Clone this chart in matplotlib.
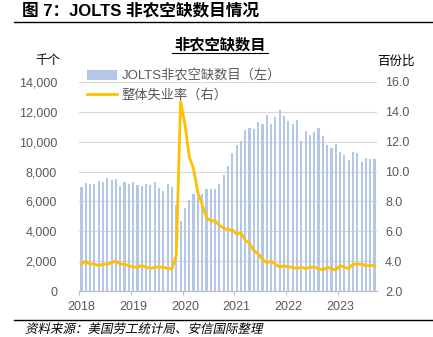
import numpy as np
import matplotlib
matplotlib.use('Agg')
import matplotlib.pyplot as plt
from matplotlib.lines import Line2D
from matplotlib.textpath import TextPath
from matplotlib.patches import PathPatch
from matplotlib.font_manager import FontProperties
from matplotlib.transforms import Affine2D, IdentityTransform

plt.rcParams['font.family'] = ['Liberation Sans', 'Noto Sans CJK SC']

# monthly, May 2018 .. Jan 2024
years = ['2018', '2019', '2020', '2021', '2022', '2023']
openings = [6990, 7210, 7170, 7170, 7370, 7280, 7570, 7450, 7480, 7050, 7280, 7170,
            7280, 7100, 7030, 7150, 7120, 7300, 6920, 6720, 7150, 6990, 5760, 4690,
            5580, 6100, 6500, 6320, 6500, 6810, 6830, 6830, 7150, 7750, 8370, 9220,
            9780, 10050, 10800, 10900, 10820, 11300, 11190, 11780, 11190, 11640, 12110, 11700,
            11420, 11160, 11460, 10060, 10730, 10480, 10660, 10950, 10360, 9800, 9570, 9850,
            9280, 9090, 8770, 9290, 9250, 8630, 8890, 8830, 8820]
unemp = [3.8, 4.0, 3.8, 3.8, 3.7, 3.8, 3.8, 3.9, 4.0, 3.8, 3.8, 3.7,
         3.6, 3.6, 3.7, 3.6, 3.5, 3.6, 3.6, 3.6, 3.5, 3.5, 4.4, 14.7,
         13.2, 11.0, 10.2, 8.6, 7.8, 6.9, 6.7, 6.7, 6.4, 6.2, 6.1, 6.1,
         5.8, 5.9, 5.4, 5.2, 4.7, 4.5, 4.1, 3.9, 4.0, 3.8, 3.6, 3.7,
         3.6, 3.6, 3.5, 3.6, 3.5, 3.6, 3.6, 3.5, 3.4, 3.6, 3.5, 3.4,
         3.7, 3.6, 3.5, 3.8, 3.8, 3.8, 3.7, 3.7, 3.7]

x = np.arange(len(openings))
grey = '#595959'

fig = plt.figure(figsize=(4.33, 3.37), dpi=100)
ax = fig.add_axes([79.3/433, 1-291/337, (376.7-79.3)/433, (291-82)/337])
ax2 = ax.twinx()

bars = ax.bar(x, openings, width=0.5, color='#B4C7E7', label='JOLTS非农空缺数目（左）', zorder=2)
line, = ax2.plot(x, unemp, color='#FFC000', lw=2, label='整体失业率（右）')

ax.set_xlim(-0.5, len(x) - 0.5)
ax.set_ylim(0, 14000)
ax2.set_ylim(2, 16)
ax.set_yticks(np.arange(0, 14001, 2000))
ax.set_yticklabels([f'{v:,}' for v in range(0, 14001, 2000)])
ax2.set_yticks(np.arange(2, 16.1, 2))
ax2.set_yticklabels([f'{v:.1f}' for v in np.arange(2, 16.1, 2)])
ax.grid(axis='y', color='#d9d9d9', lw=0.8, zorder=0)
ax.set_axisbelow(True)

ax.set_xticks(np.arange(-0.5, len(x), 12))
ax.set_xticklabels([])
ax.set_xticks(np.arange(0, len(x), 12), minor=True)
ax.set_xticklabels(years, minor=True)
ax.tick_params(axis='x', which='major', length=3, color='#bfbfbf')
ax.tick_params(axis='x', which='minor', length=0, pad=7, labelsize=9, labelcolor=grey)
ax.tick_params(axis='y', length=0, pad=16, labelsize=9, labelcolor=grey)
ax2.tick_params(axis='y', length=0, pad=6, labelsize=9, labelcolor=grey)

for a in (ax, ax2):
    for s in ('top', 'left', 'right'):
        a.spines[s].set_visible(False)
    a.spines['bottom'].set_color('#bfbfbf')

leg = ax2.legend(handles=[bars, line], loc='upper left', bbox_to_anchor=(80/433, 1-63/337),
                 bbox_transform=fig.transFigure, frameon=False, fontsize=9.5,
                 handlelength=2.3, handletextpad=0.35, labelspacing=0.45, borderpad=0)
for t in leg.get_texts():
    t.set_color(grey)

fig.text(22/433, 1-11/337, '图 7：JOLTS 非农空缺数目情况', fontsize=12, fontweight='bold', va='center')
fig.add_artist(Line2D([14/433, 1], [1-22/337, 1-22/337], color='black', lw=1))
fig.text(220/433, 1-45/337, '非农空缺数目', fontsize=11, fontweight='bold', ha='center', va='center')
fig.add_artist(Line2D([172/433, 268/433], [1-53/337, 1-53/337], color='black', lw=0.8))
fig.text(48/433, 1-61/337, '千个', fontsize=9, ha='center', va='center')
fig.text(396/433, 1-62/337, '百份比', fontsize=9, ha='center', va='center')
fig.add_artist(Line2D([14/433, 1], [1-320/337, 1-320/337], color='black', lw=1))

# italic source line: skew the glyph outlines, the CJK font has no italic face
src = TextPath((0, 0), '资料来源：美国劳工统计局、安信国际整理', size=12.5,
               prop=FontProperties(family='Noto Sans CJK SC'))
tr = Affine2D().skew_deg(12, 0).translate(25, 4) + IdentityTransform()
fig.add_artist(PathPatch(src, transform=tr, color='black', lw=0))

plt.savefig('out.png', dpi=100)
